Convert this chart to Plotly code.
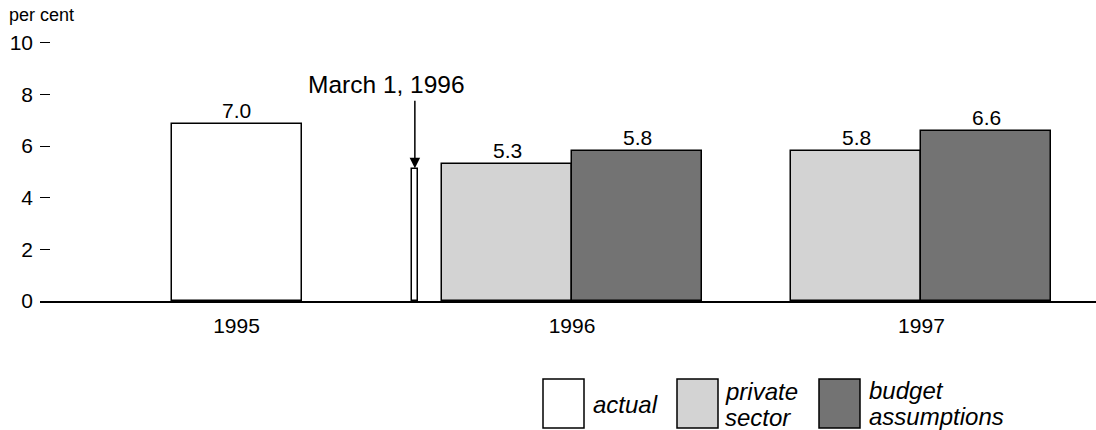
import plotly.graph_objects as go

# ---- data ----
years = ["1995", "1996", "1997"]
year_pos = [1.0, 3.581, 6.269]          # category centre positions on x axis
actual_values = [6.85]                  # 1995 actual
actual_labels = ["7.0"]
march_value = 5.1                       # March 1, 1996 actual (thin bar)
march_pos = 2.372
private_values = [5.3, 5.8]             # 1996, 1997
private_labels = ["5.3", "5.8"]
budget_values = [5.8, 6.6]              # 1996, 1997
budget_labels = ["5.8", "6.6"]
yticks = [0, 2, 4, 6, 8, 10]

# ---- geometry helpers (plot area in pixels) ----
W, H = 1096, 430
ML, MR, MT, MB = 40, 0, 30, 129
PW, PH = W - ML - MR, H - MT - MB

def px_x(p):
    return (p - ML) / PW

def px_y(p):
    return (H - MB - p) / PH

FONT = "Liberation Sans, Arial, sans-serif"
LINE = dict(color="black", width=1.5)
WHITE, LIGHT, DARK = "#ffffff", "#d3d3d3", "#737373"
LABEL_FONT = dict(size=21, color="black", family=FONT)

fig = go.Figure()

fig.add_trace(go.Bar(
    x=[year_pos[0], march_pos], y=actual_values + [march_value],
    width=[1.0, 0.05], marker=dict(color=WHITE, line=LINE),
    showlegend=False, name="actual", hoverinfo="skip"))

fig.add_trace(go.Bar(
    x=year_pos[1:], y=private_values, width=1.0, offset=-1.0,
    marker=dict(color=LIGHT, line=LINE),
    showlegend=False, name="private sector", hoverinfo="skip"))

fig.add_trace(go.Bar(
    x=year_pos[1:], y=budget_values, width=1.0, offset=0.0,
    marker=dict(color=DARK, line=LINE),
    showlegend=False, name="budget assumptions", hoverinfo="skip"))

xmin = year_pos[0] - (236.5 - ML) / 130.0
xmax = xmin + PW / 130.0

annotations = []
# value labels above bars
label_specs = (
    [(year_pos[0], v, t) for v, t in zip(actual_values, actual_labels)]
    + [(p - 0.5, v, t) for p, v, t in zip(year_pos[1:], private_values, private_labels)]
    + [(p + 0.5, v, t) for p, v, t in zip(year_pos[1:], budget_values, budget_labels)]
)
for xc, v, t in label_specs:
    annotations.append(dict(x=xc, y=v, xref="x", yref="y", text=t,
                            showarrow=False, xanchor="center", yanchor="bottom",
                            yshift=0, font=LABEL_FONT))

annotations += [
    dict(x=march_pos, y=march_value, xref="x", yref="y", text="",
         showarrow=True, ax=0, ay=-70, arrowhead=2, arrowsize=1.4,
         arrowwidth=1.5, arrowcolor="black", standoff=1),
    dict(x=march_pos, y=march_value, xref="x", yref="y",
         text="March 1, 1996", showarrow=False, xanchor="center",
         yanchor="middle", xshift=-28, yshift=85,
         font=dict(size=24.5, color="black", family=FONT)),
    dict(x=px_x(7), y=px_y(15), xref="paper", yref="paper", text="per cent",
         showarrow=False, xanchor="left", yanchor="middle",
         font=dict(size=18, color="black", family=FONT)),
]

# legend drawn manually
shapes = []
legend_items = [
    (543, WHITE, [("actual", 404)], 591),
    (677, LIGHT, [("private", 391), ("sector", 417)], 723),
    (819, DARK, [("budget", 390.5), ("assumptions", 416)], 867),
]
for bx, col, lines, tx in legend_items:
    shapes.append(dict(type="rect", xref="paper", yref="paper",
                       x0=px_x(bx), x1=px_x(bx + 41), y0=px_y(428), y1=px_y(379),
                       fillcolor=col, line=dict(color="black", width=1.5)))
    for txt, yc in lines:
        annotations.append(dict(x=px_x(tx), y=px_y(yc), xref="paper", yref="paper",
                                text="<i>" + txt + "</i>", showarrow=False,
                                xanchor="left", yanchor="middle", align="left",
                                font=dict(size=24, color="black", family=FONT)))

fig.update_layout(
    width=W, height=H,
    margin=dict(l=ML, r=MR, t=MT, b=MB),
    paper_bgcolor="white", plot_bgcolor="white",
    barmode="overlay", bargap=0,
    font=dict(family=FONT, color="black", size=21),
    xaxis=dict(range=[xmin, xmax], tickvals=year_pos, ticktext=years,
               showgrid=False, zeroline=False, showline=True,
               linecolor="black", linewidth=2, ticks="",
               ticklabelstandoff=5,
               tickfont=dict(size=21, family=FONT, color="black")),
    yaxis=dict(range=[0, 10.5], tickvals=yticks, showgrid=False,
               zeroline=False, showline=False, ticks="inside", ticklen=10,
               tickwidth=1, tickcolor="black", ticklabelstandoff=6,
               tickfont=dict(size=21, family=FONT, color="black")),
    shapes=shapes, annotations=annotations,
)

fig.write_html("out.html", config={"displayModeBar": False},
               post_script="document.body.style.margin='0px';document.body.style.overflow='hidden';")
